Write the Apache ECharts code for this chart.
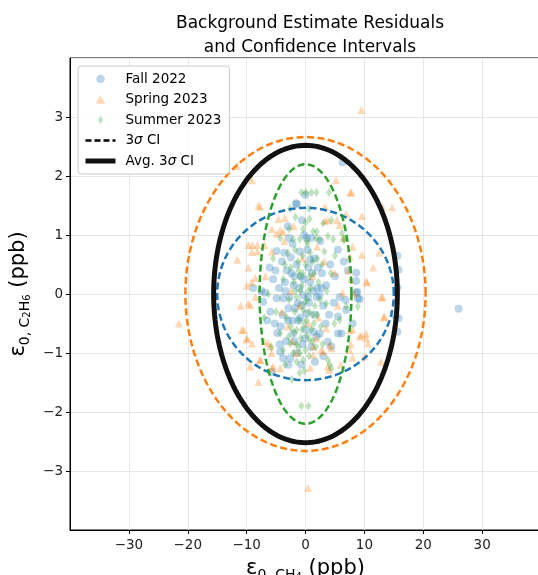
<!DOCTYPE html>
<html>
<head>
<meta charset="utf-8">
<script src="https://cdn.jsdelivr.net/npm/echarts@6/dist/echarts.min.js"></script>
<style>
  html, body { margin: 0; padding: 0; background: #fff; }
  #main { width: 538px; height: 575px; }
</style>
</head>
<body>
<div id="main"></div>
<script>
// residuals [eps CH4 (ppb), eps C2H6 (ppb)]
var fall2022 = [
  [26.0,-0.25],[15.6,0.65],[15.8,0.41],[15.6,0.11],[15.8,-0.41],[15.6,-0.64],[15.3,-0.38],
  [6.3,2.23],[0.0,1.68],[-1.6,1.54],[-0.6,1.25],[5.5,0.75],[8.6,0.22],[8.8,0.04],[8.6,0.36],
  [9.2,-0.09],[6.8,-0.1],[-6.1,0.45],[-4.9,0.73],[-8.9,0.1],[-7.5,0.05],[-6.9,0.02],[-7.2,-0.13],
  [-6.0,-0.3],[-5.2,-0.5],[-4.8,-0.66],[-6.5,-0.45],
  [-4.9,-0.07],[-3.8,-0.07],[-2.9,-0.24],[-1.8,-0.24],[-0.7,-0.19],[-0.4,-0.02],[1.9,-0.05],
  [2.4,-0.02],[0.2,-0.33],[1.3,-0.64],[1.9,-0.72],[2.4,-0.67],[-2.1,-0.67],[-4.3,-0.98],
  [-3.8,-1.09],[-2.6,-1.09],[-5.7,-1.32],[5.8,-0.05],[8.6,0.02],[8.9,-0.07],[6.9,-0.27],
  [5.5,-0.38],[5.5,-0.67],[6.1,-0.67],[8.0,-0.5],[4.4,-0.89],[3.8,-0.81],
  [-4.0,0.55],[-3.2,0.4],[-2.5,0.62],[-1.5,0.5],[-0.8,0.3],[0.5,0.45],[1.5,0.6],[2.8,0.35],
  [3.5,0.15],[4.2,0.5],[-3.5,0.2],[-2.0,0.15],[-1.0,0.1],[0.8,0.2],[2.0,0.1],[3.0,-0.2],
  [4.0,-0.35],[-1.2,-0.45],[0.0,-0.6],[-3.0,-0.45],[1.0,-0.9],[-0.5,-0.85],[-1.5,-1.0],
  [3.0,-1.05],[5.0,0.3],[6.5,0.55],[-5.5,0.25],[0.3,0.75],[-2.2,0.85],[2.5,0.9],[-0.2,1.0],
  [7.2,0.4],[4.8,-0.15],[-1.5,1.52],[1.0,0.95],[-3.3,-0.8],[0.6,-0.15],[-2.4,0.35],
  [-4.5,0.1],[-3.9,-0.35],[-3.4,0.05],[-2.7,-0.05],[-2.2,-0.45],[-1.9,0.3],[-1.3,-0.15],
  [-0.9,-0.4],[-0.3,0.25],[0.4,-0.05],[1.1,0.35],[1.6,-0.35],[2.1,0.45],[-4.2,-0.55],
  [-3.6,0.7],[-2.8,0.95],[-1.0,0.72],[0.8,0.58],[-0.1,-0.75],[-1.9,-0.8],[-2.9,-1.2],
  [-0.7,-1.2],[1.6,-1.15],[3.4,-0.5],[2.7,0.1],[-5.1,0.4],[-4.4,-0.85],[0.2,0.95],
  [-3.0,1.15],[1.3,0.05]
];
var spring2023 = [
  [9.5,3.12],[0.4,-3.29],[-21.5,-0.5],[-11.6,2.17],[-9.1,1.93],[-8.0,1.5],[-7.7,1.48],
  [-4.6,1.27],[5.2,1.93],[7.6,1.72],[13.1,1.47],[14.7,1.47],[9.6,1.32],[3.3,1.24],[5.8,1.17],
  [-3.5,1.29],[-4.3,1.08],[-5.7,1.1],[6.4,0.95],[8.0,0.8],[12.5,0.7],[9.6,0.66],[7.5,0.63],
  [7.7,0.25],[10.3,0.21],[10.5,0.19],[4.9,0.36],[7.3,0.4],[12.9,-0.06],[13.3,-0.4],
  [8.0,-0.6],[9.5,-0.7],[10.3,-0.75],
  [-9.7,0.83],[-9.0,0.83],[-8.2,0.83],[-7.0,0.83],[-8.2,0.72],[-5.7,0.72],[-11.6,0.58],
  [-9.7,0.45],[-8.5,0.27],[-9.2,0.2],[-10.0,0.14],
  [-10.5,-0.61],[-10.0,-0.77],[-9.4,-0.19],[-7.7,-1.12],[-9.4,-1.23],[-8.0,-1.49],
  [-6.3,-0.83],[-5.8,-1.0],[-5.5,-1.23],[-8.5,-0.05],[-9.7,-0.16],[-10.8,-0.61],[-9.9,-0.75],
  [-9.1,-0.84],[-6.0,-0.89],[-4.3,-1.26],[-5.7,-1.26],[-1.5,-1.0],[1.3,-0.89],[1.3,-1.03],
  [4.4,-0.92],[3.5,-0.58],[7.5,-0.61],[7.5,-0.95],[8.0,-1.08],[7.7,-0.85],
  [13.1,-0.05],[13.4,-0.38],[10.3,-0.67],[10.6,-0.84],[9.2,-0.72],[4.1,-0.86],[3.0,-0.98],
  [10.0,-1.06],[12.8,-1.15],[4.0,-1.29],[8.3,0.01],[6.3,0.02],
  [3.8,1.25],[5.3,1.25],[3.3,1.48],[7.8,1.72],[6.9,1.35],[-4.9,1.02],[-3.8,1.05],
  [-9.1,0.71],[-7.0,-0.8],[2.7,-0.95],[3.8,-1.23],[-7.7,-1.12],[-2.5,0.05],[1.2,0.3],
  [-3.0,-0.55],[2.2,-0.4],[-0.5,0.6],[5.5,-0.2],[-6.8,0.3],[0.8,-1.25],[-2.0,1.15],
  [11.5,0.45],[-11.0,-0.2],[6.0,-1.2],[-4.0,-0.3],[2.0,0.8],
  [-1.0,-0.2],[0.5,-0.5],[-2.2,-0.8],[3.2,0.55],[-3.6,0.9],[1.8,-0.75]
];
var summer2023 = [
  [-0.7,1.72],[0.05,1.72],[1.0,1.72],[1.86,1.72],[4.0,1.72],
  [0.7,1.27],[0.0,1.21],[4.4,1.25],[1.3,1.06],[1.9,1.06],[-4.3,0.95],[-2.1,0.93],[-1.0,0.93],
  [0.2,0.9],[2.4,0.93],[3.8,0.98],[4.7,0.93],[6.6,0.93],[6.2,1.03],[6.5,0.92],
  [-3.0,0.7],[-1.8,0.75],[-0.5,0.65],[0.8,0.7],[2.0,0.6],[3.2,0.72],[5.0,0.65],[-2.5,0.45],
  [-1.2,0.4],[0.0,0.5],[1.5,0.35],[2.8,0.5],[4.3,0.35],[-3.8,0.25],[-2.0,0.2],[-0.6,0.15],
  [0.9,0.1],[2.2,0.2],[3.6,0.05],[-1.5,-0.05],[0.3,-0.1],[1.6,-0.2],[-2.8,-0.1],
  [-0.4,-0.27],[0.2,-0.44],[-1.5,-0.61],[-2.6,-0.84],[-2.1,-1.0],[-1.5,-1.15],[-0.4,-1.12],
  [-3.5,-1.2],[-1.0,-1.34],[3.8,-1.12],[4.1,-1.2],[4.4,-1.26],[8.9,-0.21],[5.8,-0.44],
  [4.9,-0.5],[3.5,-0.16],[6.9,-0.21],[-0.7,-1.9],[0.5,-1.9],[0.7,-0.78],[-2.9,-0.72],
  [-4.3,-0.67],[1.8,-0.9],[-0.8,-0.75],[2.6,-0.55],[-3.2,-0.4],[1.2,-0.35],[-1.8,-0.3],
  [0.0,-0.95],[-2.3,-1.45],[-5.5,0.6],[-5.0,-0.3],[-6.3,0.0],[-7.0,-0.4],[-5.8,-0.9],
  [-1.0,0.3],[0.5,0.05],[-0.2,-0.5],[1.0,-0.6],[-1.2,-0.9],[2.5,-0.1],[-2.5,-0.55],
  [-1.7,1.3],[-0.4,1.1],[0.6,1.45],[-2.8,1.1],[-1.3,0.55],[0.4,0.85],[1.2,0.55],
  [-0.9,0.05],[-0.2,-0.15],[0.6,-0.3],[-1.1,-0.45],[-0.6,-0.6],[0.3,-0.7],[1.4,-0.5],
  [-2.0,-0.65],[-1.6,-0.85],[-0.9,-1.0],[-0.2,-1.3],[0.6,-1.05],[1.2,-0.8],[2.0,-0.35],
  [-0.5,0.35],[0.7,0.3],[-1.8,0.05],[-3.5,0.5],[1.8,0.95],[3.0,1.2],[-3.8,-0.95],
  [2.9,-0.85],[-2.6,1.45]
];

// 3-sigma confidence ellipses (semi-axes, centred on 0,0)
var ciNames = ['Fall 2022 CI', 'Spring 2023 CI', 'Summer 2023 CI', 'Avg. 3σ CI'];
var ciRx = [15.0, 20.4, 7.8, 15.6];
var ciRy = [1.46, 2.66, 2.2, 2.52];
var ciColors = ['#1f77b4', '#ff7f0e', '#2ca02c', '#111111'];

var xTicks = [-30, -20, -10, 0, 10, 20, 30];
var yTicks = [-3, -2, -1, 0, 1, 2, 3];

function ellipse(rx, ry) {
  var pts = [];
  for (var i = 0; i <= 180; i++) {
    var t = i / 180 * 2 * Math.PI;
    pts.push([rx * Math.cos(t), ry * Math.sin(t)]);
  }
  return pts;
}

var FONT = 'DejaVu Sans';
var minus = function (v) { return String(v).replace('-', '\u2212'); };
var TRI = 'path://M5,0L10,8.7L0,8.7Z';
var THIN_DIAMOND = 'path://M3,0L6,5L3,10L0,5Z';

var series = [
  { name: 'Fall 2022', type: 'scatter', data: fall2022, symbol: 'circle', symbolSize: 8,
    itemStyle: { color: '#1f77b4', opacity: 0.3 } },
  { name: 'Spring 2023', type: 'scatter', data: spring2023, symbol: 'triangle', symbolSize: 8,
    itemStyle: { color: '#ff7f0e', opacity: 0.3 } },
  { name: 'Summer 2023', type: 'scatter', data: summer2023, symbol: 'diamond', symbolSize: [6, 9],
    itemStyle: { color: '#2ca02c', opacity: 0.3 } },
  // legend-only entry
  { name: '3σ CI', type: 'line', data: [], symbol: 'none',
    lineStyle: { color: '#000', width: 2.5, type: [6, 3] }, itemStyle: { color: '#000' } }
];
ciNames.forEach(function (n, i) {
  var avg = i === 3;
  series.push({
    name: n, type: 'line', data: ellipse(ciRx[i], ciRy[i]), symbol: 'none', z: 5,
    silent: true,
    lineStyle: { color: ciColors[i], width: avg ? 5 : 2.5, type: avg ? 'solid' : [7, 3.5] },
    itemStyle: { color: ciColors[i] }
  });
});

var chart = echarts.init(document.getElementById('main'));
chart.setOption({
  animation: false,
  backgroundColor: '#fff',
  title: {
    text: 'Background Estimate Residuals\nand Confidence Intervals',
    left: 305, top: 7, textAlign: 'center',
    textStyle: { fontFamily: FONT, fontSize: 17, fontWeight: 'normal', color: '#000', lineHeight: 24 }
  },
  legend: {
    orient: 'vertical', left: 78, top: 66, z: 10,
    symbolKeepAspect: true,
    data: [
      { name: 'Fall 2022', icon: 'circle' },
      { name: 'Spring 2023', icon: TRI },
      { name: 'Summer 2023', icon: THIN_DIAMOND },
      { name: '3σ CI', itemStyle: { opacity: 0 }, lineStyle: { width: 2.5 } },
      { name: 'Avg. 3σ CI', itemStyle: { opacity: 0 }, lineStyle: { width: 5 } }
    ],
    itemWidth: 30, itemHeight: 8.5, itemGap: 6.5,
    padding: [6, 8, 6, 5],
    backgroundColor: 'rgba(255,255,255,0.85)', borderColor: '#cccccc', borderWidth: 1, borderRadius: 3,
    formatter: function (n) { return n.replace('σ', '{i|σ}'); },
    textStyle: { fontFamily: FONT, fontSize: 13.5, color: '#000', padding: [0, 0, 0, 5],
      rich: { i: { fontFamily: FONT, fontSize: 13.5, fontStyle: 'italic', color: '#000' } } }
  },
  grid: { left: 70, right: -3, top: 58, bottom: 45, outerBoundsMode: 'none',
    show: true, borderColor: '#000', borderWidth: 1 },
  xAxis: {
    type: 'value', min: -40, max: 40, interval: 10,
    axisLine: { onZero: false, lineStyle: { color: '#000' } },
    axisTick: { show: true, length: 4, lineStyle: { color: '#000' } },
    axisLabel: { fontFamily: FONT, fontSize: 13.5, color: '#222', margin: 8,
      showMinLabel: false, showMaxLabel: false,
      formatter: function (v) { return xTicks.indexOf(v) >= 0 ? minus(v) : ''; } },
    splitLine: { show: true, lineStyle: { color: '#e6e6e6', width: 1 } },
    name: '{e|ε}{s|0, CH}{ss|4}{e| (ppb)}',
    nameLocation: 'middle', nameGap: 26,
    nameTextStyle: {
      rich: {
        e: { fontFamily: FONT, fontSize: 21, color: '#000', lineHeight: 26 },
        s: { fontFamily: FONT, fontSize: 14, color: '#000', lineHeight: 10, verticalAlign: 'bottom' },
        ss: { fontFamily: FONT, fontSize: 10, color: '#000', lineHeight: 4, verticalAlign: 'bottom' }
      }
    }
  },
  yAxis: {
    type: 'value', min: -4, max: 4, interval: 1,
    axisLine: { onZero: false, lineStyle: { color: '#000' } },
    axisTick: { show: true, length: 4, lineStyle: { color: '#000' } },
    axisLabel: { fontFamily: FONT, fontSize: 13.5, color: '#222', margin: 7,
      showMinLabel: false, showMaxLabel: false,
      formatter: function (v) { return yTicks.indexOf(v) >= 0 ? minus(v) : ''; } },
    splitLine: { show: true, lineStyle: { color: '#e6e6e6', width: 1 } },
    name: '{e|ε}{s|0, C}{ss|2}{s|H}{ss|6}{e| (ppb)}',
    nameLocation: 'middle', nameGap: 38, nameRotate: 90,
    nameTextStyle: {
      rich: {
        e: { fontFamily: FONT, fontSize: 21, color: '#000', lineHeight: 26 },
        s: { fontFamily: FONT, fontSize: 14, color: '#000', lineHeight: 10, verticalAlign: 'bottom' },
        ss: { fontFamily: FONT, fontSize: 10, color: '#000', lineHeight: 4, verticalAlign: 'bottom' }
      }
    }
  },
  series: series
});
</script>
</body>
</html>
